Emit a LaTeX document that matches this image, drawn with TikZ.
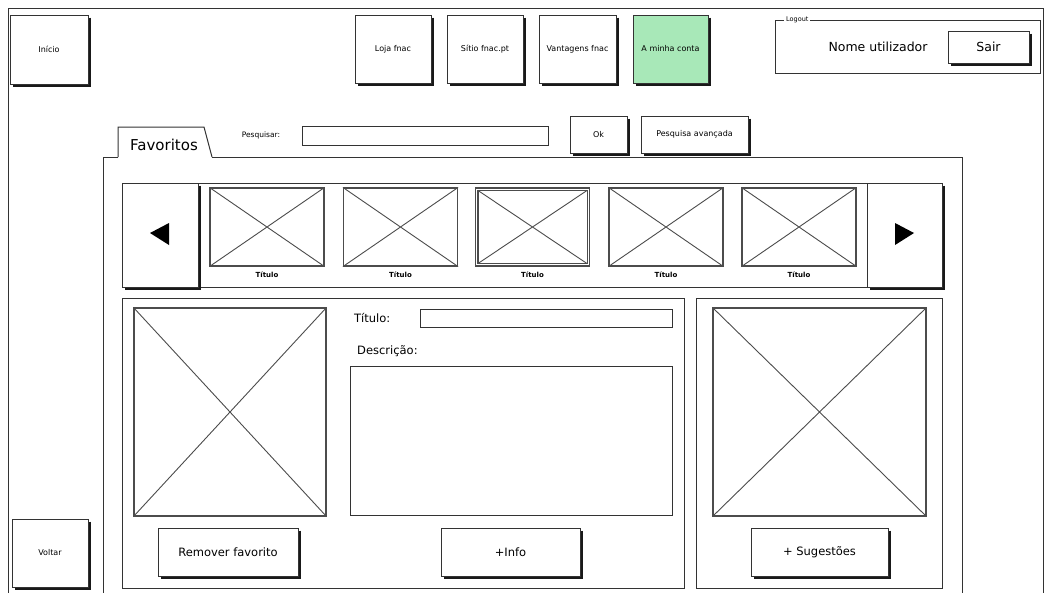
\documentclass[tikz,border=0pt]{standalone}
\usepackage{fontspec}
\setmainfont{DejaVu Sans}
\begin{document}
\begin{tikzpicture}[x=1pt,y=-1pt,
  ln/.style={draw=black!80,line width=1pt},
  box/.style={ln,rectangle,inner sep=0pt,fill=white},
  btn/.style={box,font=\fontsize{8}{10}\selectfont},
  bigbtn/.style={box,font=\fontsize{11.5}{14}\selectfont},
  img/.style={box,draw=black!70,line width=1.1pt},
  cross/.style={draw=black!70,line width=0.9pt},
  shadowline/.style={draw=black!90,line width=2pt},
  lbl/.style={inner sep=0pt,font=\fontsize{11.5}{14}\selectfont},
  tit/.style={inner sep=0pt,font=\bfseries\fontsize{7}{9}\selectfont}
]
\newcommand\shd[1]{\draw[shadowline] ([xshift=1pt,yshift=-3pt]#1.north east) -- ([xshift=1pt,yshift=-1pt]#1.south east) -- ([xshift=3pt,yshift=-1pt]#1.south west);}
\newcommand\crs[1]{\draw[cross] (#1.north west) -- (#1.south east) (#1.north east) -- (#1.south west);}
\useasboundingbox[fill=white] (0,0) rectangle (1049,592);
% outer frame
\draw[ln] (8,600) -- (8,8) -- (1043,8) -- (1043,600);
% top buttons
\node[btn,minimum width=78pt,minimum height=69pt] (inicio) at (49,49.5) {Início};
\node[btn,minimum width=76pt,minimum height=68pt] (loja) at (393,49) {Loja fnac};
\node[btn,minimum width=76pt,minimum height=68pt] (sitio) at (485,49) {Sítio fnac.pt};
\node[btn,minimum width=77pt,minimum height=68pt] (vant) at (577.5,49) {Vantagens fnac};
\node[btn,fill={rgb,255:red,168;green,232;blue,184},minimum width=75pt,minimum height=68pt] (conta) at (670.5,49) {A minha conta};
\shd{inicio}\shd{loja}\shd{sitio}\shd{vant}\shd{conta}
% logout
\node[box,minimum width=265pt,minimum height=53pt] (logout) at (907.5,46.5) {};
\node[inner sep=2pt,fill=white,anchor=west,font=\fontsize{6.5}{8}\selectfont] (logoutlbl) at (784,20) {Logout};
\node[lbl,font=\fontsize{12.5}{15}\selectfont] (nome) at (878,47) {Nome utilizador};
\node[bigbtn,font=\fontsize{12.5}{15}\selectfont,minimum width=81pt,minimum height=32pt] (sair) at (988.5,47) {Sair};
\shd{sair}
% search row
\node[inner sep=0pt,font=\fontsize{7.5}{10}\selectfont] (pesq) at (261,135) {Pesquisar:};
\node[box,minimum width=246pt,minimum height=19pt] (campo) at (425,136) {};
\node[btn,minimum width=57pt,minimum height=37pt] (ok) at (598.5,134.5) {Ok};
\node[btn,minimum width=107pt,minimum height=37pt] (avanc) at (694.5,134.5) {Pesquisa avançada};
\shd{ok}\shd{avanc}
% tab and main panel
\draw[ln] (118,157) -- (118,127) -- (204,127) -- (212,157);
\draw[ln] (103,600) -- (103,157) -- (118,157);
\draw[ln] (212,157) -- (962,157) -- (962,600);
\node[inner sep=0pt,font=\fontsize{15}{18}\selectfont] (fav) at (164,145) {Favoritos};
% carousel
\node[box,minimum width=820pt,minimum height=104pt] (car) at (532,235) {};
\node[box,minimum width=76pt,minimum height=104pt] (prev) at (160,235) {};
\node[box,minimum width=75pt,minimum height=104pt] (next) at (904.5,235) {};
\shd{prev}\shd{next}
\fill[black] (150,233) -- (169,223) -- (169,245) -- cycle;
\fill[black] (914,233) -- (895,223) -- (895,245) -- cycle;
\foreach \n/\cx in {t1/267,t2/400.5,t3/532.5,t4/666,t5/799}{
  \node[img,minimum width=114pt,minimum height=78pt] (\n) at (\cx,227) {};
  \node[tit] (\n l) at (\cx,275) {Título};
}
\draw[img] ([xshift=3pt,yshift=-3pt]t3.north west) rectangle ([xshift=-3pt,yshift=3pt]t3.south east);
\foreach \n in {t1,t2,t4,t5}{\crs{\n}}
\draw[cross] ([xshift=3pt,yshift=-3pt]t3.north west) -- ([xshift=-3pt,yshift=3pt]t3.south east)
  ([xshift=-3pt,yshift=-3pt]t3.north east) -- ([xshift=3pt,yshift=3pt]t3.south west);
% detail panels
\node[box,minimum width=562pt,minimum height=290pt] (det) at (403,443) {};
\node[box,minimum width=246pt,minimum height=290pt] (sug) at (819,443) {};
\node[img,minimum width=192pt,minimum height=208pt] (capa) at (230,412) {};
\crs{capa}
\node[lbl,anchor=west] (titlbl) at (354,318) {Título:};
\node[box,minimum width=252pt,minimum height=18pt] (titf) at (546,318) {};
\node[lbl,anchor=west] (desclbl) at (357,351) {Descrição:};
\node[box,minimum width=322pt,minimum height=149pt] (desc) at (511,440.5) {};
\node[img,minimum width=213pt,minimum height=208pt] (sugimg) at (819.5,412) {};
\crs{sugimg}
\node[bigbtn,minimum width=140pt,minimum height=48pt] (rem) at (228,552) {Remover favorito};
\node[bigbtn,minimum width=139pt,minimum height=48pt] (info) at (510.5,552) {+Info};
\node[bigbtn,minimum width=137pt,minimum height=48pt] (sugb) at (819.5,552) {+ Sugestões};
\node[btn,minimum width=76pt,minimum height=68pt] (voltar) at (50,553) {Voltar};
\shd{rem}\shd{info}\shd{sugb}\shd{voltar}
\end{tikzpicture}
\end{document}
